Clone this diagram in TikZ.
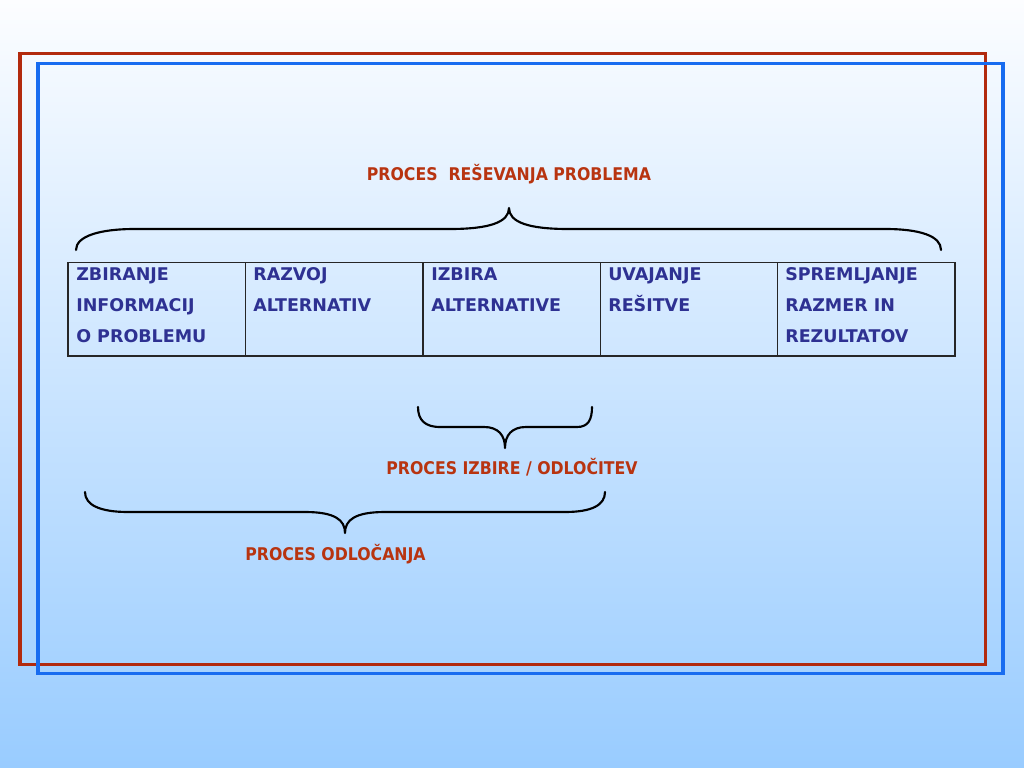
\documentclass[tikz,border=0pt]{standalone}
\usepackage{fontspec}
\setmainfont{DejaVu Sans Condensed}[BoldFont={DejaVu Sans Condensed Bold}]
\newfontfamily\cellfont{DejaVu Sans}[BoldFont={DejaVu Sans Bold}]
\definecolor{framered}{RGB}{178,42,14}
\definecolor{frameblue}{RGB}{24,108,240}
\definecolor{titlered}{RGB}{184,52,16}
\definecolor{cellblue}{RGB}{46,49,146}
\definecolor{bgbottom}{RGB}{153,204,255}
\definecolor{bgtop}{RGB}{252,253,255}
\tikzset{
  title/.style={font=\fontsize{12.3}{14}\selectfont\bfseries, text=titlered, anchor=base, inner sep=0pt},
  celltext/.style={font=\cellfont\fontsize{12.3}{14}\selectfont\bfseries, text=cellblue, anchor=base west, inner sep=0pt},
  brace/.style={line width=1.5pt, black, line cap=round, line join=round},
  tab/.style={line width=0.9pt, black!85},
}
\begin{document}
\begin{tikzpicture}[x=0.703125pt, y=-0.703125pt]
\useasboundingbox (0,0) rectangle (1024,768);
\shade[top color=bgtop, bottom color=bgbottom] (0,0) rectangle (1024,768);
% frames
\draw[framered, line width=2.2pt] (20,53.5) rectangle (985.5,664.5);
\draw[frameblue, line width=2.2pt] (38,63.5) rectangle (1003,673.5);
% title
\node[title] (t1) at (509,181) {PROCES\ \ REŠEVANJA PROBLEMA};
% top brace
\draw[brace] (76,250) .. controls (76,236) and (100,229) .. (135,229) -- (450,229)
  .. controls (490,229) and (509,222) .. (509,208)
  .. controls (509,222) and (528,229) .. (568,229) -- (885,229)
  .. controls (920,229) and (941,236) .. (941,250);
% table
\draw[tab] (68,262.5) rectangle (955,356);
\foreach \xx in {245.7,423,600.7,777.7} \draw[tab] (\xx,262.5) -- (\xx,356);
\node[celltext] (c11) at (76,280.5) {ZBIRANJE};
\node[celltext] (c12) at (76,311.5) {INFORMACIJ};
\node[celltext] (c13) at (76,342.5) {O PROBLEMU};
\node[celltext] (c21) at (253,280.5) {RAZVOJ};
\node[celltext] (c22) at (253,311.5) {ALTERNATIV};
\node[celltext] (c31) at (431,280.5) {IZBIRA};
\node[celltext] (c32) at (431,311.5) {ALTERNATIVE};
\node[celltext] (c41) at (608,280.5) {UVAJANJE};
\node[celltext] (c42) at (608,311.5) {REŠITVE};
\node[celltext] (c51) at (785,280.5) {SPREMLJANJE};
\node[celltext] (c52) at (785,311.5) {RAZMER IN};
\node[celltext] (c53) at (785,342.5) {REZULTATOV};
% middle brace
\draw[brace] (418,407) .. controls (418,420) and (425,427) .. (440,427) -- (484,427)
  .. controls (498,427) and (505,435) .. (505,448)
  .. controls (505,435) and (512,427) .. (526,427) -- (577,427)
  .. controls (588,427) and (592,420) .. (592,407);
\node[title] (t2) at (512,474) {PROCES IZBIRE / ODLOČITEV};
% bottom brace
\draw[brace] (85,492) .. controls (85,505) and (100,512) .. (128,512) -- (305,512)
  .. controls (335,512) and (345,520) .. (345,533)
  .. controls (345,520) and (355,512) .. (385,512) -- (565,512)
  .. controls (592,512) and (605,505) .. (605,492);
\node[title] (t3) at (335.5,560) {PROCES ODLOČANJA};
\end{tikzpicture}
\end{document}
